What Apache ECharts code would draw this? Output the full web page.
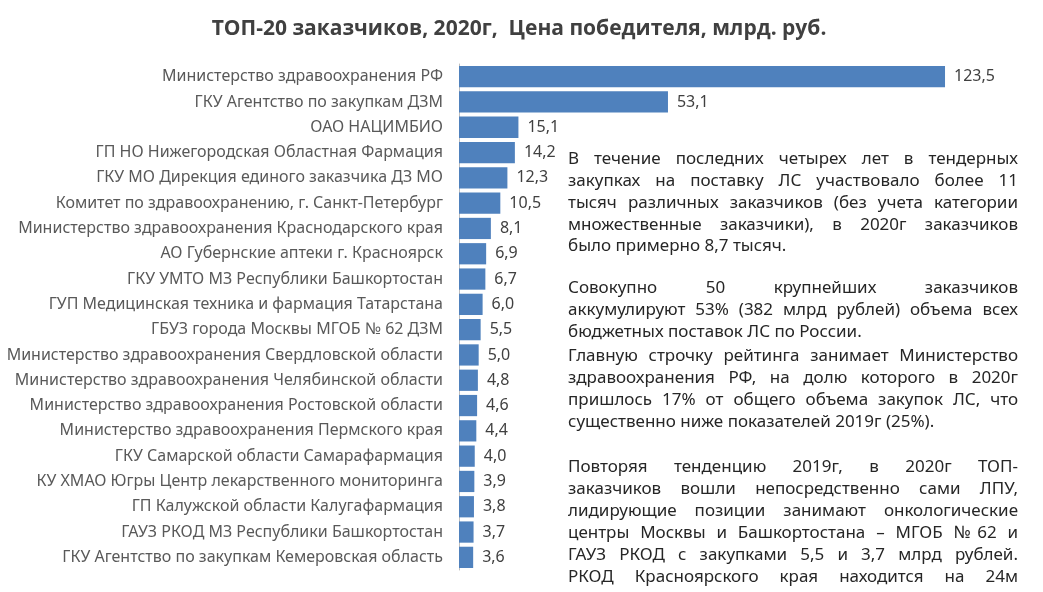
<!DOCTYPE html>
<html><head><meta charset="utf-8">
<script src="https://cdn.jsdelivr.net/npm/echarts@6/dist/echarts.min.js"></script>
<style>
html,body{margin:0;padding:0;background:#fff;}
#c{position:absolute;left:0;top:0;width:1043px;height:592px;}
#txt{position:absolute;left:568px;top:0;width:450px;font-family:"Noto Sans",sans-serif;font-size:17px;color:#262626;}
.ln{position:absolute;left:0;width:450px;height:22px;line-height:22px;white-space:nowrap;text-align:left;}
.j{text-align:justify;text-align-last:justify;white-space:normal;}
</style></head>
<body>
<div id="c"></div>
<div id="txt"></div>
<script>
const categories = [
 "Министерство здравоохранения РФ",
 "ГКУ Агентство по закупкам ДЗМ",
 "ОАО НАЦИМБИО",
 "ГП НО Нижегородская Областная Фармация",
 "ГКУ МО Дирекция единого заказчика ДЗ МО",
 "Комитет по здравоохранению, г. Санкт-Петербург",
 "Министерство здравоохранения Краснодарского края",
 "АО Губернские аптеки г. Красноярск",
 "ГКУ УМТО МЗ Республики Башкортостан",
 "ГУП Медицинская техника и фармация Татарстана",
 "ГБУЗ города Москвы МГОБ № 62 ДЗМ",
 "Министерство здравоохранения Свердловской области",
 "Министерство здравоохранения Челябинской области",
 "Министерство здравоохранения Ростовской области",
 "Министерство здравоохранения Пермского края",
 "ГКУ Самарской области Самарафармация",
 "КУ ХМАО Югры Центр лекарственного мониторинга",
 "ГП Калужской области Калугафармация",
 "ГАУЗ РКОД МЗ Республики Башкортостан",
 "ГКУ Агентство по закупкам Кемеровская область"
];
const values = [123.5,53.1,15.1,14.2,12.3,10.5,8.1,6.9,6.7,6.0,5.5,5.0,4.8,4.6,4.4,4.0,3.9,3.8,3.7,3.6];
const title = "ТОП-20 заказчиков, 2020г,  Цена победителя, млрд. руб.";
// [text, justified?, center y]
const textLines = [
 ["В течение последних четырех лет в тендерных",1,158],
 ["закупках на поставку ЛС участвовало более 11",1,180],
 ["тысяч различных заказчиков (без учета категории",1,202],
 ["множественные заказчики), в 2020г заказчиков",1,224],
 ["было примерно 8,7 тысяч.",0,245],
 ["Совокупно 50 крупнейших заказчиков",1,287],
 ["аккумулируют 53% (382 млрд рублей) объема всех",1,309],
 ["бюджетных поставок ЛС по России.",0,331],
 ["Главную строчку рейтинга занимает Министерство",1,355],
 ["здравоохранения РФ, на долю которого в 2020г",1,377],
 ["пришлось 17% от общего объема закупок ЛС, что",1,399],
 ["существенно ниже показателей 2019г (25%).",0,421],
 ["Повторяя тенденцию 2019г, в 2020г ТОП-",1,466],
 ["заказчиков вошли непосредственно сами ЛПУ,",1,488],
 ["лидирующие позиции занимают онкологические",1,510],
 ["центры Москвы и Башкортостана – МГОБ №62 и",1,532],
 ["ГАУЗ РКОД с закупками 5,5 и 3,7 млрд рублей.",1,554],
 ["РКОД Красноярского края находится на 24м",1,576]
];
const txt = document.getElementById('txt');
textLines.forEach(l=>{
  const d=document.createElement('div');
  d.className='ln'+(l[1]?' j':'');
  d.style.top=(l[2]-11)+'px';
  d.textContent=l[0];
  txt.appendChild(d);
});
const chart = echarts.init(document.getElementById('c'));
chart.setOption({
  animation:false,
  title:{text:title,left:514,top:14,textAlign:'center',
    textStyle:{fontFamily:'Open Sans',fontWeight:'bold',fontSize:21,color:'#404040'}},
  grid:{left:459,top:64,width:511.6,height:506,containLabel:false},
  xAxis:{type:'value',min:0,max:130,show:false},
  yAxis:{type:'category',data:categories,inverse:true,
    axisLine:{show:true,lineStyle:{color:'#bfbfbf',width:1}},
    axisTick:{show:false},
    axisLabel:{margin:16,fontFamily:'Noto Sans',fontSize:16,color:'#595959'}},
  series:[{type:'bar',data:values,barCategoryGap:'16%',
    itemStyle:{color:'#4f81bd'},
    label:{show:true,position:'right',distance:9,fontFamily:'Noto Sans',fontSize:16,color:'#404040',
      formatter:p=>p.value.toFixed(1).replace('.',',')}}]
});
</script>
</body></html>
